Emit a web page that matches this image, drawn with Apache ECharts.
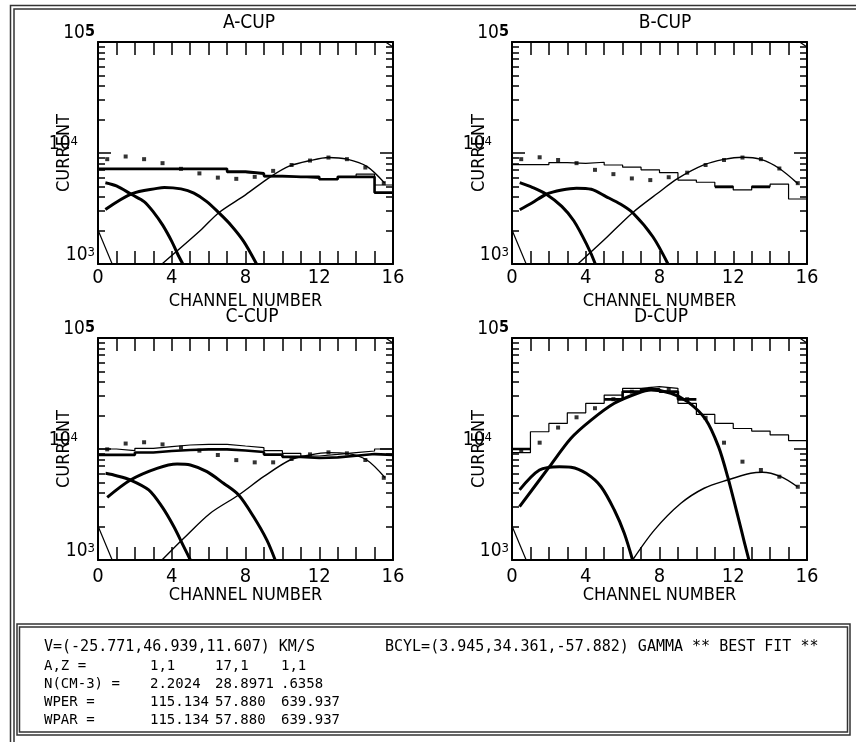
<!DOCTYPE html>
<html>
<head>
<meta charset="utf-8">
<title>Faraday cup channel spectra</title>
<script src="https://cdn.jsdelivr.net/npm/echarts@6/dist/echarts.min.js"></script>
</head>
<body style="margin:0;background:#fff;">
<div id="main" style="width:856px;height:742px;"></div>
<script type="text/javascript">

// ---- data (current vs channel number) ----
// histograms: one value per channel bin 0..15
var cupA_hist  = [7200, 7200, 7200, 7200, 7200, 7200, 7200, 6650, 6450, 6100, 6100, 5900, 5800, 6100, 6450, 5150];
var cupA_model = [7200, 7200, 7200, 7200, 7200, 7200, 7200, 6800, 6550, 6200, 6100, 6100, 5800, 6100, 6100, 4400];
var cupA_dots  = [8800, 9300, 8800, 8100, 7200, 6550, 6000, 5850, 6100, 6900, 7800, 8550, 9100, 8800, 7400, 5350];
var cupA_fit1  = [[0.4, 5400], [1, 5050], [1.85, 4200], [2.5, 3650], [3, 2950], [3.5, 2250], [4, 1600], [4.3, 1250], [4.6, 1000]];
var cupA_fit2  = [[0.4, 3100], [1.85, 4300], [3.2, 4800], [3.6, 4900], [4.5, 4750], [5.2, 4350], [5.9, 3650], [6.55, 2900], [7.2, 2250], [7.9, 1600], [8.6, 1000]];
var cupA_fit3  = [[3.47, 1000], [5.55, 2000], [6.55, 2900], [8, 4200], [9.35, 6100], [10.4, 7650], [11.5, 8550], [12.5, 9100], [13.5, 8800], [14.6, 7550], [15.55, 5350]];

var cupB_hist  = [7850, 7850, 8200, 8050, 8250, 7800, 7450, 7050, 6650, 5700, 5450, 5000, 4650, 5000, 5250, 3850];
var cupB_model = [null, null, null, null, null, null, null, null, null, null, null, 4950, null, 4950, null, null];
var cupB_dots  = [8800, 9150, 8650, 8100, 7050, 6450, 5900, 5700, 6050, 6650, 7800, 8650, 9100, 8800, 7250, 5350];
var cupB_fit1  = [[0.42, 5400], [1.1, 4900], [1.86, 4250], [2.7, 3300], [3.35, 2450], [4.05, 1500], [4.52, 1000]];
var cupB_fit2  = [[0.42, 3080], [1.1, 3560], [1.86, 4250], [2.7, 4640], [3.5, 4820], [4.3, 4710], [5.1, 4050], [5.9, 3450], [6.56, 2880], [7.64, 1760], [8.46, 1000]];
var cupB_fit3  = [[3.57, 1000], [5.0, 1650], [6.54, 2900], [7.9, 4340], [9.0, 5900], [10.4, 7800], [11.5, 8750], [12.5, 9150], [13.5, 8750], [14.5, 7250], [15.5, 5300]];

var cupC_hist  = [10000, 9660, 10140, 10500, 10860, 11020, 11020, 10640, 10280, 9660, 9140, 8650, 8950, 9270, 9590, 10000];
var cupC_model = [8850, 8850, 9300, 9600, 9800, 9930, 9930, 9700, 9400, 8900, 8500, 8300, 8400, 8700, 9000, 8850];
var cupC_dots  = [9930, 11200, 11500, 11000, 10300, 9660, 8830, 7940, 7580, 7580, 8130, 8950, 9330, 9140, 7960, 5500];
var cupC_fit1  = [[0.41, 6040], [1.0, 5750], [1.76, 5260], [2.75, 4280], [3.47, 3020], [4.11, 2000], [4.65, 1320], [5.01, 1000]];
var cupC_fit2  = [[0.5, 3670], [1.76, 5260], [3.2, 6700], [4.29, 7330], [5.01, 7180], [5.91, 6250], [6.81, 4910], [7.63, 3850], [8.44, 2450], [9.16, 1510], [9.61, 1000]];
var cupC_fit3  = [[3.47, 1000], [4.65, 1570], [6.09, 2640], [7.63, 3850], [8.98, 5630], [10.42, 7960], [11.51, 8830], [12.5, 9270], [13.49, 9140], [14.58, 7960], [15.57, 5510]];

var cupD_hist  = [9270, 14300, 17000, 21200, 25800, 30600, 35200, 36400, 35200, 25800, 20500, 17000, 15300, 14500, 13400, 11900];
var cupD_model = [10000, null, null, null, null, 28000, 32900, 34500, 32900, 28000, null, null, null, null, null, null];
var cupD_dots  = [9800, 11400, 15600, 19300, 23300, 28100, 32800, 34800, 34000, 28100, 19100, 11400, 7690, 6470, 5630, 4570];
var cupD_fit1  = [[0.41, 3020], [2.03, 6930], [3.2, 12500], [4.29, 18200], [5.55, 25800], [6.81, 31800], [7.54, 34000], [8.62, 31800], [9.52, 26700], [10.5, 18500], [11.2, 10500], [11.7, 5600], [12.3, 2300], [12.6, 1450], [12.85, 1000]];
var cupD_fit2  = [[0.41, 4280], [1.49, 6470], [2.57, 6930], [3.2, 6860], [4.02, 6040], [4.83, 4570], [5.55, 2820], [6.09, 1740], [6.54, 1000]];
var cupD_fit3  = [[6.54, 1000], [7.72, 1860], [9.16, 3240], [10.42, 4430], [11.69, 5260], [12.95, 6040], [13.58, 6170], [14.58, 5630], [15.48, 4570]];

// short edge lines in the lower left / upper right corners
var edgeLow  = [[0, 2020], [0.77, 1000]];
var edgeHigh = [[15.6, 100000], [16, 90000]];

var cupNames = ['A-CUP', 'B-CUP', 'C-CUP', 'D-CUP'];
var xLabelEvery = 4;
var minorMult = [2, 3, 4, 5, 6, 7, 8, 9];
var decades = [1000, 10000];

// fit summary text under the plots
var infoLine1 = 'V=(-25.771,46.939,11.607) KM/S';
var infoLine2 = 'BCYL=(3.945,34.361,-57.882) GAMMA ** BEST FIT **';
var infoRows = [
    ['A,Z =',     '1,1',     '17,1',    '1,1'],
    ['N(CM-3) =', '2.2024',  '28.8971', '.6358'],
    ['WPER =',    '115.134', '57.880',  '639.937'],
    ['WPAR =',    '115.134', '57.880',  '639.937']
];

// ---- layout ----
var FONT = "'DejaVu Sans Condensed', 'Liberation Sans Narrow', 'DejaVu Sans', sans-serif";
var MONO = "'DejaVu Sans Mono', 'Liberation Mono', monospace";
var panels = [
    {left: 98,  top: 42,  titleX: 249, titleY: 14,  nameGap: 28, labelMargin: 4, yNameGap: 25},
    {left: 512, top: 42,  titleX: 665, titleY: 14,  nameGap: 28, labelMargin: 4, yNameGap: 24},
    {left: 98,  top: 338, titleX: 252, titleY: 308, nameGap: 26, labelMargin: 7, yNameGap: 25},
    {left: 512, top: 338, titleX: 661, titleY: 308, nameGap: 26, labelMargin: 7, yNameGap: 24}
];
var cups = [
    {hist: cupA_hist, model: cupA_model, dots: cupA_dots, fits: [cupA_fit1, cupA_fit2], thin: cupA_fit3},
    {hist: cupB_hist, model: cupB_model, dots: cupB_dots, fits: [cupB_fit1, cupB_fit2], thin: cupB_fit3},
    {hist: cupC_hist, model: cupC_model, dots: cupC_dots, fits: [cupC_fit1, cupC_fit2], thin: cupC_fit3},
    {hist: cupD_hist, model: cupD_model, dots: cupD_dots, fits: [cupD_fit1, cupD_fit2], thin: cupD_fit3}
];

var minorTicks = [];
decades.forEach(function (d) { minorMult.forEach(function (m) { minorTicks.push(d * m); }); });

// histogram outline: horizontal run for each bin, null breaks the line
function steps(bins) {
    var pts = [];
    bins.forEach(function (v, i) {
        if (v == null) { pts.push([i, null]); return; }
        pts.push([i, v], [i + 1, v]);
    });
    return pts;
}

function yLabel(v) {
    var e = Math.round(Math.log10(v));
    if (e === 5) return '{n|10}{b|5}';
    if (e === 4) return '{n|10}{s|4}{gap| }';
    return '{n|10}{s|' + e + '}';
}

var grid = [], xAxis = [], yAxis = [], series = [], title = [];
var black = '#000';
var tickStyle = {color: black, width: 1.5};

panels.forEach(function (p, i) {
    grid.push({left: p.left, top: p.top, width: 295, height: 222, outerBoundsMode: 'none', containLabel: false});
    title.push({
        text: cupNames[i], left: p.titleX, top: p.titleY, textAlign: 'center', padding: 0,
        textStyle: {fontFamily: FONT, fontSize: 19, fontWeight: 'normal', color: black}
    });
    var xBase = {
        type: 'value', gridIndex: i, min: 0, max: 16, interval: 1,
        splitLine: {show: false},
        axisLine: {show: true, onZero: false, lineStyle: {color: black, width: 2}},
        axisTick: {show: true, inside: true, length: 13, lineStyle: tickStyle}
    };
    xAxis.push(Object.assign({}, xBase, {
        position: 'bottom',
        name: 'CHANNEL NUMBER', nameLocation: 'middle', nameGap: p.nameGap, nameMoveOverlap: false,
        nameTextStyle: {fontFamily: FONT, fontSize: 18, color: black},
        axisLabel: {
            show: true, margin: p.labelMargin, color: black, fontFamily: FONT, fontSize: 20,
            showMinLabel: true, showMaxLabel: true,
            formatter: function (v) { return v % xLabelEvery === 0 ? String(v) : ''; }
        }
    }));
    xAxis.push(Object.assign({}, xBase, {position: 'top', axisLabel: {show: false}}));

    var yBase = {
        type: 'log', logBase: 10, gridIndex: i, min: 1000, max: 100000,
        splitLine: {show: false}, minorTick: {show: false}
    };
    var noLine = {show: false, onZero: false};
    var boxLine = {show: true, onZero: false, lineStyle: {color: black, width: 2}};
    // left: major ticks + labels
    yAxis.push(Object.assign({}, yBase, {
        position: 'left',
        name: 'CURRENT', nameLocation: 'middle', nameRotate: 90, nameGap: p.yNameGap, nameMoveOverlap: false,
        nameTextStyle: {fontFamily: FONT, fontSize: 18, color: black},
        axisLine: boxLine,
        axisTick: {show: true, inside: true, length: 13, lineStyle: tickStyle},
        axisLabel: {
            show: true, margin: 3, verticalAlign: 'bottom', showMinLabel: true, showMaxLabel: true,
            formatter: yLabel,
            rich: {
                n: {fontFamily: FONT, fontSize: 19, color: black, lineHeight: 18},
                s: {fontFamily: FONT, fontSize: 13, color: black, verticalAlign: 'top'},
                b: {fontFamily: FONT, fontSize: 16, fontWeight: 'bold', color: black, verticalAlign: 'top'},
                gap: {width: 17}
            }
        }
    }));
    // left: minor ticks 2..9
    yAxis.push(Object.assign({}, yBase, {
        position: 'left', axisLine: noLine, axisLabel: {show: false},
        axisTick: {show: true, inside: true, length: 7, customValues: minorTicks, lineStyle: tickStyle}
    }));
    // right side
    yAxis.push(Object.assign({}, yBase, {
        position: 'right', axisLabel: {show: false}, axisLine: boxLine,
        axisTick: {show: true, inside: true, length: 13, lineStyle: tickStyle}
    }));
    yAxis.push(Object.assign({}, yBase, {
        position: 'right', axisLine: noLine, axisLabel: {show: false},
        axisTick: {show: true, inside: true, length: 7, customValues: minorTicks, lineStyle: tickStyle}
    }));

    var c = cups[i];
    var common = {xAxisIndex: i * 2, yAxisIndex: i * 4, type: 'line', symbol: 'none', silent: true, animation: false, clip: true};
    series.push(Object.assign({}, common, {data: steps(c.hist), lineStyle: {color: black, width: 1.2}}));
    series.push(Object.assign({}, common, {data: steps(c.model), lineStyle: {color: black, width: 2.6}}));
    c.fits.forEach(function (f) {
        series.push(Object.assign({}, common, {data: f, smooth: 0.3, lineStyle: {color: black, width: 3}}));
    });
    series.push(Object.assign({}, common, {data: c.thin, smooth: 0.3, lineStyle: {color: black, width: 1.4}}));
    series.push(Object.assign({}, common, {data: edgeLow, lineStyle: {color: black, width: 1.2}}));
    series.push(Object.assign({}, common, {data: edgeHigh, lineStyle: {color: black, width: 1.2}}));
    series.push({
        type: 'scatter', xAxisIndex: i * 2, yAxisIndex: i * 4, silent: true, animation: false,
        symbol: 'rect', symbolSize: 4, itemStyle: {color: black},
        data: c.dots.map(function (v, k) { return [k + 0.5, v]; })
    });
});

// frame, fit summary box and its text
var graphic = [
    {type: 'rect', silent: true, shape: {x: 10.5, y: 5.5, width: 900, height: 900}, style: {fill: 'none', stroke: '#333', lineWidth: 1.5}},
    {type: 'rect', silent: true, shape: {x: 14, y: 9, width: 900, height: 900}, style: {fill: 'none', stroke: '#333', lineWidth: 1.5}},
    {type: 'rect', silent: true, shape: {x: 17, y: 624, width: 833, height: 111}, style: {fill: '#fff', stroke: '#333', lineWidth: 1.5}},
    {type: 'rect', silent: true, shape: {x: 19.5, y: 627, width: 828, height: 105}, style: {fill: 'none', stroke: '#333', lineWidth: 1.5}},
    {type: 'text', silent: true, x: 44, y: 647, style: {text: infoLine1, font: '15px ' + MONO, fill: black, verticalAlign: 'middle'}},
    {type: 'text', silent: true, x: 385, y: 647, style: {text: infoLine2, font: '15px ' + MONO, fill: black, verticalAlign: 'middle'}}
];
var rowY = [666, 684, 702, 720];
var colX = [44, 150, 215, 281];
infoRows.forEach(function (row, r) {
    row.forEach(function (txt, k) {
        graphic.push({type: 'text', silent: true, x: colX[k], y: rowY[r],
            style: {text: txt, font: '14px ' + MONO, fill: black, verticalAlign: 'middle'}});
    });
});

var myChart = echarts.init(document.getElementById('main'));
myChart.setOption({
    backgroundColor: '#fff',
    animation: false,
    title: title,
    grid: grid,
    xAxis: xAxis,
    yAxis: yAxis,
    series: series,
    graphic: graphic
});
</script>
</body>
</html>
